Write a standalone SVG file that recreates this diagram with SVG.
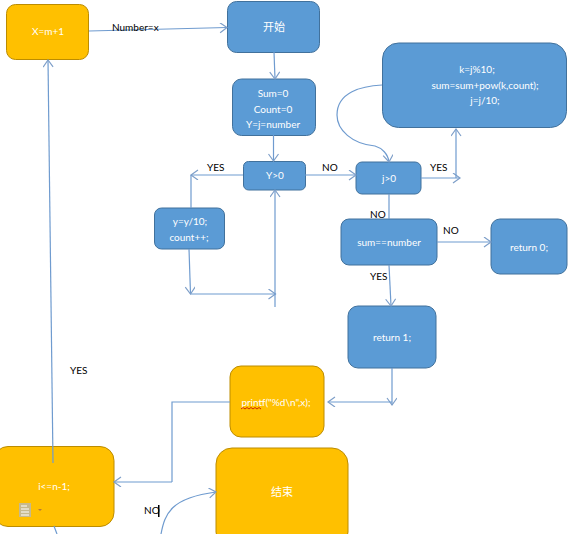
<svg xmlns="http://www.w3.org/2000/svg" width="568" height="534" viewBox="0 0 568 534">
<defs>
<marker id="a" markerWidth="12" markerHeight="12" refX="8" refY="5" orient="auto" markerUnits="userSpaceOnUse"><path d="M1 0 L8 5 L1 10" fill="none" stroke="#7e9fc9" stroke-width="1.2"/></marker>
</defs>
<style>
.b{fill:#5b9bd5;stroke:#41719c;stroke-width:1}
.o{fill:#ffc000;stroke:#bc8c00;stroke-width:1}
.t{font-family:Lato,"Noto Sans CJK SC",sans-serif;font-size:10px;fill:#fff;text-anchor:middle}
.l{font-family:Lato,sans-serif;font-size:10px;fill:#000}
.c{fill:none;stroke:#6f9bcf;stroke-width:1.2}
.m{marker-end:url(#a)}
</style>
<rect width="568" height="534" fill="#fff"/>
<g id="n-xm"><rect class="o" x="6.500" y="4.500" width="82" height="55" rx="9"/><text class="t" x="48" y="35">X=m+1</text></g>
<g id="n-start"><rect class="b" x="227.500" y="1.500" width="92" height="51" rx="9"/><text class="t" x="274" y="31" style="font-size:11px">开始</text></g>
<g id="n-init"><rect class="b" x="232.500" y="79" width="83" height="56.500" rx="9"/><text class="t" x="273" y="97">Sum=0</text><text class="t" x="273" y="113">Count=0</text><text class="t" x="273" y="128">Y=j=number</text></g>
<g id="n-ygt0"><rect class="b" x="243.500" y="161.500" width="62" height="28.500" rx="5"/><text class="t" x="275" y="179">Y&gt;0</text></g>
<g id="n-ydiv"><rect class="b" x="154.500" y="208" width="70" height="41" rx="7"/><text class="t" x="190" y="225">y=y/10;</text><text class="t" x="189" y="241">count++;</text></g>
<g id="n-jgt0"><rect class="b" x="356" y="162" width="65" height="32" rx="6"/><text class="t" x="389" y="182">j&gt;0</text></g>
<g id="n-body"><rect class="b" x="382.500" y="43" width="184" height="84.500" rx="16"/><text class="t" x="477" y="73">k=j%10;</text><text class="t" x="485" y="89">sum=sum+pow(k,count);</text><text class="t" x="485" y="104">j=j/10;</text></g>
<g id="n-eq"><rect class="b" x="341" y="219" width="96" height="46" rx="8"/><text class="t" x="389" y="246">sum==number</text></g>
<g id="n-ret0"><rect class="b" x="491" y="219" width="76" height="55" rx="9"/><text class="t" x="529" y="251">return 0;</text></g>
<g id="n-ret1"><rect class="b" x="348" y="306" width="88" height="62" rx="10"/><text class="t" x="392" y="341">return 1;</text></g>
<g id="n-printf"><rect class="o" x="230" y="366" width="94" height="71" rx="11"/><text class="t" x="276" y="406">printf("%d\n",x);</text><path d="M241 409 l2 -1.500 l2 1.500 l2 -1.500 l2 1.500 l2 -1.500 l2 1.500 l2 -1.500 l2 1.500 l2 -1.500 l2 1.500" fill="none" stroke="#c00000" stroke-width="0.8"/></g>
<g id="n-iloop"><rect class="o" x="-6" y="446.500" width="120" height="80" rx="14"/><text class="t" x="54" y="490">i&lt;=n-1;</text><rect x="19" y="503" width="12" height="14" fill="#c6b98e"/><path d="M21 506 h6 M21 509 h8 M21 512 h8 M21 515 h8" stroke="#fff" stroke-width="1"/><path d="M38 509 h4 l-2 2z" fill="#b5793a"/></g>
<g id="n-end"><rect class="o" x="216" y="448" width="132" height="100" rx="16"/><text class="t" x="282" y="496" style="font-size:11px">结束</text></g>
<g id="connectors">
<path class="c m" d="M89 31 L227 27.500"/>
<path class="c m" d="M274 52 L275 79"/>
<path class="c m" d="M273.500 135 L273.500 161"/>
<path class="c m" d="M243 175 L191 175"/>
<path class="c" d="M191 175 L191 208"/>
<path class="c m" d="M305 175 L356 175"/>
<path class="c m" d="M189 249 L190.500 294"/>
<path class="c m" d="M190.500 294 L275.500 294"/>
<path class="c m" d="M275 307 L275 190"/>
<path class="c m" d="M421 178 L460 178"/>
<path class="c m" d="M456 178 L456 129"/>
<path class="c m" d="M382 85 C362 86 337 92 337 115 C337 130 352 144 375 146 C382 148 388 154 389 162"/>
<path class="c" d="M389 194 L389 219"/>
<path class="c m" d="M437 242 L491 242"/>
<path class="c m" d="M389 265 L391 306"/>
<path class="c m" d="M392 368 L392 405"/>
<path class="c m" d="M392 402 L328 402"/>
<path class="c" d="M230 402 L172 402 L172 482"/>
<path class="c m" d="M172 482 L114 482"/>
<path class="c m" d="M53 463 L48 60"/>
<path class="c" d="M54 526 L57 534"/>
<path class="c m" d="M161 534 C165 514 170 498 216 492"/>
</g>
<g id="labels">
<text class="l" x="112" y="31">Number=x</text>
<text class="l" x="207" y="171">YES</text>
<text class="l" x="322" y="171">NO</text>
<text class="l" x="430" y="171">YES</text>
<text class="l" x="370" y="218">NO</text>
<text class="l" x="443" y="234">NO</text>
<text class="l" x="370" y="280">YES</text>
<text class="l" x="70" y="374">YES</text>
<text class="l" x="144" y="514">NO</text>
<rect x="158" y="505" width="1.500" height="12" fill="#000"/>
</g>
</svg>
